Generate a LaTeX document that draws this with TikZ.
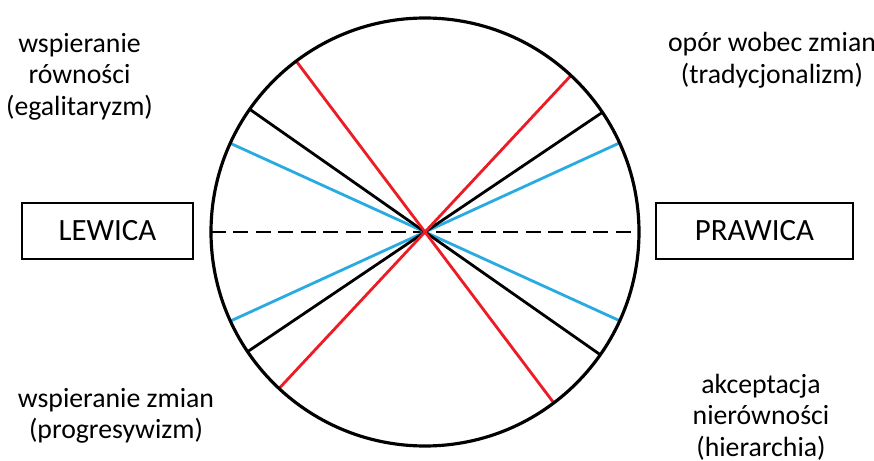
\documentclass[tikz,border=0pt]{standalone}
\usepackage{fontspec}
\setmainfont{Carlito}
\usetikzlibrary{positioning}
\definecolor{redline}{HTML}{ED1C24}
\definecolor{blueline}{HTML}{29ABE2}
\tikzset{
  sidebox/.style={draw=black, line width=0.75pt, minimum height=56*0.2mm, inner sep=0pt, font=\fontsize{17.6}{20}\selectfont},
  lbl/.style={align=center, inner sep=0pt, font=\fontsize{15.8}{17.9}\selectfont},
  axis/.style={line width=1.6pt}
}
\begin{document}
\begin{tikzpicture}[x=0.2mm, y=0.2mm]
  \useasboundingbox (-425,-229) rectangle (449,232);
  \coordinate (c) at (0,0);
  \coordinate (w) at (180:214);
  \coordinate (e) at (0:214);
  \draw[line width=1.1pt, dash pattern=on 8.5pt off 4.3pt] (w) -- (e);
  % blue, black and red lines through the centre
  \draw[axis, blueline] (155.5:214) -- (335.5:214);
  \draw[axis, blueline] (24.6:214) -- (204.6:214);
  \draw[axis] (145:214) -- (325:214);
  \draw[axis] (34:214) -- (214:214);
  \draw[axis, redline] (127:214) -- (307:214);
  \draw[axis, redline] (47:214) -- (227:214);
  \draw[line width=1.8pt] (c) circle (214);
  \node[sidebox, minimum width=171*0.2mm] (lewica) at (-317.5,1) {LEWICA};
  \node[sidebox, minimum width=197*0.2mm] (prawica) at (329.5,1) {PRAWICA};
  \node[lbl] (egal) at (-345.5,155.6) {wspieranie\\równości\\(egalitaryzm)};
  \node[lbl] (trad) at (347,171.6) {opór wobec zmian\\(tradycjonalizm)};
  \node[lbl] (prog) at (-309,-183.9) {wspieranie zmian\\(progresywizm)};
  \node[lbl] (hier) at (336,-185) {akceptacja\\nierówności\\(hierarchia)};
\end{tikzpicture}
\end{document}
